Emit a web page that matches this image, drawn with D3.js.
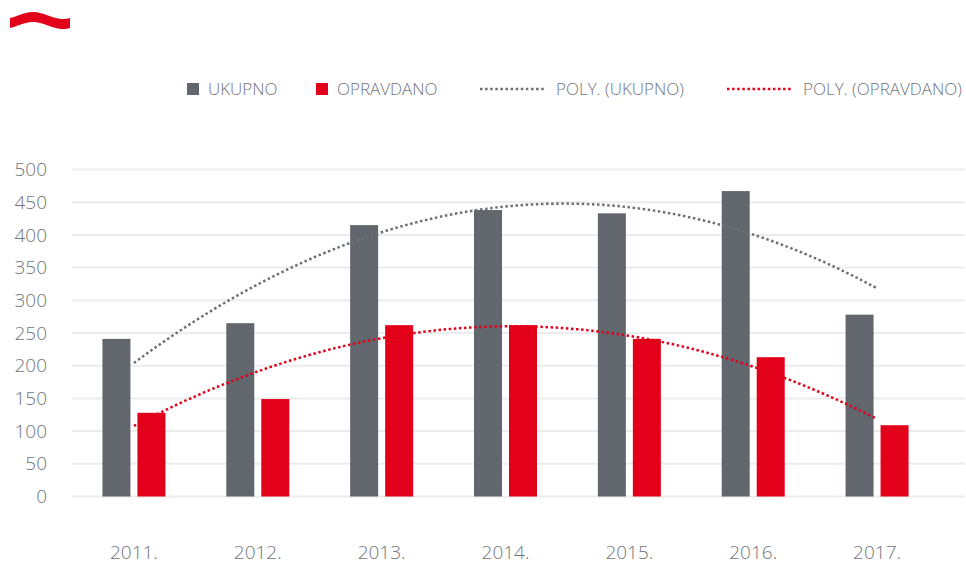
<!DOCTYPE html>
<html>
<head>
<meta charset="utf-8">
<script src="https://cdn.jsdelivr.net/npm/d3@7"></script>
<style>
  body { margin: 0; background: #fff; }
  svg text { font-family: "Open Sans", "Noto Sans", sans-serif; font-weight: 300; }
</style>
</head>
<body>
<div id="chart"></div>
<script>
// data
const years = ["2011.", "2012.", "2013.", "2014.", "2015.", "2016.", "2017."];
const ukupno = [241, 265, 415, 438, 433, 467, 278];
const opravdano = [128, 149, 262, 262, 241, 213, 109];
const seriesNames = ["UKUPNO", "OPRAVDANO"];
const yTicks = [0, 50, 100, 150, 200, 250, 300, 350, 400, 450, 500];

const W = 966, H = 565;
const grey = "#62676e", red = "#e2001a", textCol = "#72757b";

const svg = d3.select("#chart").append("svg")
    .attr("width", W)
    .attr("height", H);

// logo wave, top left
const wave = d3.range(0, 61).map(function(i) {
    return [10 + i, 15.5 - 3.5 * Math.sin((i - 8) / 60 * 2 * Math.PI)];
});
const botEdge = wave.map(p => [p[0], p[1] + 10]).reverse();
svg.append("path")
    .attr("d", d3.line()(wave.concat(botEdge)) + "Z")
    .attr("fill", red);

// scales
const plotL = 72, plotR = 939, gridR = 965;
const y = d3.scaleLinear().domain([0, 500]).range([496.5, 169.5]);
const step = (plotR - plotL) / years.length;
const groupW = 63;
const pin = 1 - groupW / step;
const x0 = d3.scaleBand().domain(years).range([plotL, plotR])
    .paddingInner(pin).paddingOuter(pin / 2);
const x1 = d3.scaleBand().domain(seriesNames).range([0, groupW]).paddingInner(0.2);
const xc = d3.scaleLinear().domain([1, years.length])
    .range([x0(years[0]) + groupW / 2, x0(years[years.length - 1]) + groupW / 2]);

// grid
svg.append("g").selectAll("line")
    .data(yTicks)
    .enter().append("line")
    .attr("x1", plotL).attr("x2", gridR)
    .attr("y1", d => y(d)).attr("y2", d => y(d))
    .attr("stroke", "#ececec")
    .attr("stroke-width", 2);

// y labels
svg.append("g").selectAll("text")
    .data(yTicks)
    .enter().append("text")
    .attr("x", 47)
    .attr("y", d => y(d))
    .attr("dy", "0.35em")
    .attr("text-anchor", "end")
    .attr("font-size", 19)
    .attr("fill", textCol)
    .text(d => d);

// x labels
svg.append("g").selectAll("text")
    .data(years)
    .enter().append("text")
    .attr("x", d => x0(d) + groupW / 2)
    .attr("y", 559)
    .attr("text-anchor", "middle")
    .attr("font-size", 19)
    .attr("fill", textCol)
    .text(d => d);

// bars
const rows = years.map(function(yr, i) {
    return {year: yr, vals: [{k: "UKUPNO", v: ukupno[i]}, {k: "OPRAVDANO", v: opravdano[i]}]};
});
const groups = svg.append("g").selectAll("g")
    .data(rows)
    .enter().append("g")
    .attr("transform", d => `translate(${x0(d.year)},0)`);
groups.selectAll("rect")
    .data(d => d.vals)
    .enter().append("rect")
    .attr("x", d => x1(d.k))
    .attr("width", x1.bandwidth())
    .attr("y", d => y(d.v))
    .attr("height", d => y(0) - y(d.v))
    .attr("fill", d => d.k === "UKUPNO" ? grey : red);

// 2nd order polynomial trend (least squares, x = 1..n)
function polyFit(vals) {
    let s = [0, 0, 0, 0, 0], t = [0, 0, 0];
    vals.forEach(function(v, i) {
        const xx = i + 1;
        for (let p = 0; p < 5; p++) s[p] += Math.pow(xx, p);
        for (let p = 0; p < 3; p++) t[p] += v * Math.pow(xx, p);
    });
    const m = [[s[0], s[1], s[2], t[0]], [s[1], s[2], s[3], t[1]], [s[2], s[3], s[4], t[2]]];
    for (let c = 0; c < 3; c++) {
        for (let r = c + 1; r < 3; r++) {
            const f = m[r][c] / m[c][c];
            for (let k = c; k < 4; k++) m[r][k] -= f * m[c][k];
        }
    }
    const co = [0, 0, 0];
    for (let r = 2; r >= 0; r--) {
        let sum = m[r][3];
        for (let k = r + 1; k < 3; k++) sum -= m[r][k] * co[k];
        co[r] = sum / m[r][r];
    }
    return xx => co[0] + co[1] * xx + co[2] * xx * xx;
}

const samples = d3.range(1, years.length + 0.001, 0.05);
const trendLine = d3.line().x(d => xc(d[0])).y(d => y(d[1]));
[[ukupno, "#6b6f76"], [opravdano, red]].forEach(function(s) {
    const f = polyFit(s[0]);
    svg.append("path")
        .attr("d", trendLine(samples.map(xx => [xx, f(xx)])))
        .attr("fill", "none")
        .attr("stroke", s[1])
        .attr("stroke-width", 2.5)
        .attr("stroke-dasharray", "2.5 2.6");
});

// legend
const lgY = 89;
const lg = svg.append("g");
lg.append("rect").attr("x", 187).attr("y", lgY - 6).attr("width", 12).attr("height", 12).attr("fill", grey);
lg.append("text").attr("x", 208).attr("y", lgY).attr("dy", "0.36em").attr("font-size", 17).attr("fill", textCol).text("UKUPNO");
lg.append("rect").attr("x", 316).attr("y", lgY - 6).attr("width", 12).attr("height", 12).attr("fill", red);
lg.append("text").attr("x", 337).attr("y", lgY).attr("dy", "0.36em").attr("font-size", 17).attr("fill", textCol).text("OPRAVDANO");
lg.append("line").attr("x1", 480).attr("x2", 546).attr("y1", lgY).attr("y2", lgY)
    .attr("stroke", "#6b6f76").attr("stroke-width", 2.5).attr("stroke-dasharray", "2.5 2.6");
lg.append("text").attr("x", 556).attr("y", lgY).attr("dy", "0.36em").attr("font-size", 17).attr("fill", textCol).text("POLY. (UKUPNO)");
lg.append("line").attr("x1", 727).attr("x2", 792).attr("y1", lgY).attr("y2", lgY)
    .attr("stroke", red).attr("stroke-width", 2.5).attr("stroke-dasharray", "2.5 2.6");
lg.append("text").attr("x", 803).attr("y", lgY).attr("dy", "0.36em").attr("font-size", 17).attr("fill", textCol).text("POLY. (OPRAVDANO)");
</script>
</body>
</html>
